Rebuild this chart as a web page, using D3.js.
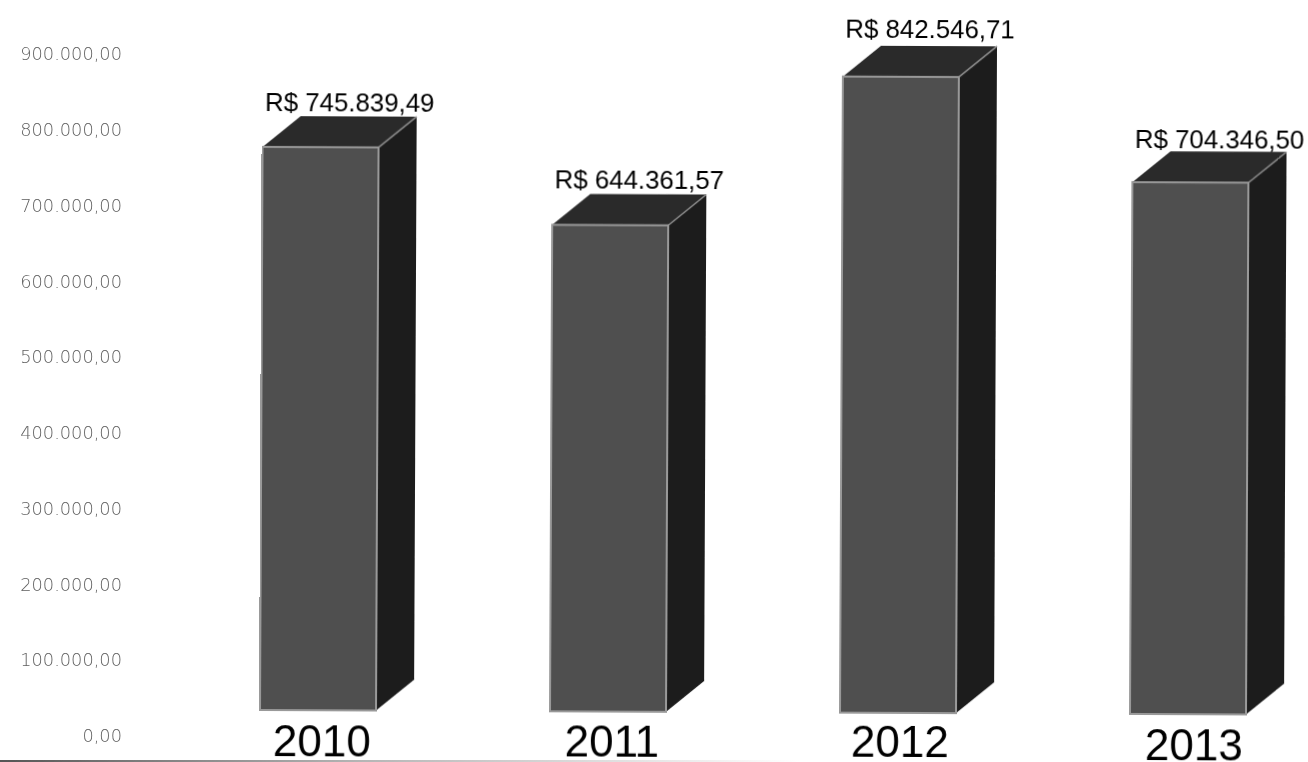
<!DOCTYPE html>
<html>
<head>
<meta charset="utf-8">
<script src="https://cdn.jsdelivr.net/npm/d3@7"></script>
<style>
    html, body { margin: 0; padding: 0; background: #fff; overflow: hidden; }
    svg { display: block; }
    .axis path, .axis line { display: none; }
    .axis text { font-family: "DejaVu Sans", sans-serif; font-weight: 200; font-size: 17.8px; fill: #606060; }
</style>
</head>
<body>
<div id="chart"></div>
<script>
const years = ["2010", "2011", "2012", "2013"];
const revenue = [745839.49, 644361.57, 842546.71, 704346.50];
const axisTicks = [0, 100000, 200000, 300000, 400000, 500000, 600000, 700000, 800000, 900000];

const width = 1308, height = 762;
const depth = { x: 38, y: 31 };

// labels in the source were placed by hand, not quite on a grid
const valueNudge = { "2010": [0, -1], "2011": [0, -2], "2012": [0, -4], "2013": [0, 1] };
const yearNudge = { "2010": [0, 1], "2011": [0, 0], "2012": [-2, -1], "2013": [2, 1] };

const ptBr = d3.formatLocale({
    decimal: ",",
    thousands: ".",
    grouping: [3],
    currency: ["R$ ", ""]
});

const svg = d3.select("#chart").append("svg")
    .attr("width", width)
    .attr("height", height);

// the source is a scan, so soften everything slightly
const defs = svg.append("defs");
defs.append("filter").attr("id", "soft")
    .append("feGaussianBlur").attr("stdDeviation", 0.65);

const fade = defs.append("linearGradient").attr("id", "scan-edge");
fade.append("stop").attr("offset", "0").attr("stop-color", "#555");
fade.append("stop").attr("offset", "0.15").attr("stop-color", "#777");
fade.append("stop").attr("offset", "0.45").attr("stop-color", "#b5b5b5");
fade.append("stop").attr("offset", "1").attr("stop-color", "#fff");

const root = svg.append("g").attr("filter", "url(#soft)");

const x = d3.scaleBand()
    .domain(years)
    .range([260, 1246])
    .paddingInner(0.6)
    .paddingOuter(0);

// bars sit on their own baseline, the axis labels are drawn lower down
const y = d3.scaleLinear().domain([0, 900000]).range([710, 30.5]);
const yAxis = d3.scaleLinear().domain([0, 900000]).range([736, 54]);

root.append("g")
    .attr("class", "axis")
    .attr("transform", "translate(122,0)")
    .call(d3.axisLeft(yAxis)
        .tickValues(axisTicks)
        .tickSize(0)
        .tickPadding(0)
        .tickFormat(ptBr.format(",.2f")));

// page was scanned a little crooked
const plot = root.append("g").attr("transform", "rotate(0.26 261 710)");

const rows = years.map((year, i) => ({ year: year, value: revenue[i] }));

const bars = plot.selectAll(".bar")
    .data(rows)
    .enter()
    .append("g")
    .attr("class", "bar");

const poly = d3.line();

bars.append("path")
    .attr("d", (d) => {
        const r = x(d.year) + x.bandwidth();
        return poly([[r, y(d.value)], [r + depth.x, y(d.value) - depth.y], [r + depth.x, y(0) - depth.y], [r, y(0)]]) + "Z";
    })
    .attr("fill", "#1f1f1f");

bars.append("path")
    .attr("d", (d) => {
        const l = x(d.year), r = l + x.bandwidth();
        return poly([[l, y(d.value)], [l + depth.x, y(d.value) - depth.y], [r + depth.x, y(d.value) - depth.y], [r, y(d.value)]]) + "Z";
    })
    .attr("fill", "#2b2b2b");

bars.append("line")
    .attr("x1", (d) => x(d.year) + x.bandwidth())
    .attr("y1", (d) => y(d.value))
    .attr("x2", (d) => x(d.year) + x.bandwidth() + depth.x)
    .attr("y2", (d) => y(d.value) - depth.y)
    .attr("stroke", "#8c8c8c")
    .attr("stroke-width", 1.5);

bars.append("rect")
    .attr("x", (d) => x(d.year))
    .attr("y", (d) => y(d.value))
    .attr("width", x.bandwidth())
    .attr("height", (d) => y(0) - y(d.value))
    .attr("fill", "#505050")
    .attr("stroke", "#999")
    .attr("stroke-width", 2);

bars.append("text")
    .attr("x", (d) => x(d.year) + x.bandwidth() / 2 + 29 + valueNudge[d.year][0])
    .attr("y", (d) => y(d.value) - 35 + valueNudge[d.year][1])
    .attr("text-anchor", "middle")
    .style("font-family", "'Liberation Sans', Arial, sans-serif")
    .style("font-size", "25.8px")
    .attr("fill", "#000")
    .text((d) => ptBr.format("$,.2f")(d.value));

bars.append("text")
    .attr("x", (d) => x(d.year) + x.bandwidth() / 2 + 4 + yearNudge[d.year][0])
    .attr("y", (d) => y(0) + 45 + yearNudge[d.year][1])
    .attr("text-anchor", "middle")
    .style("font-family", "'Liberation Sans', Arial, sans-serif")
    .style("font-size", "44px")
    .attr("fill", "#000")
    .text((d) => d.year);

root.append("rect")
    .attr("x", 0)
    .attr("y", 760)
    .attr("width", 800)
    .attr("height", 2)
    .attr("fill", "url(#scan-edge)");
</script>
</body>
</html>
